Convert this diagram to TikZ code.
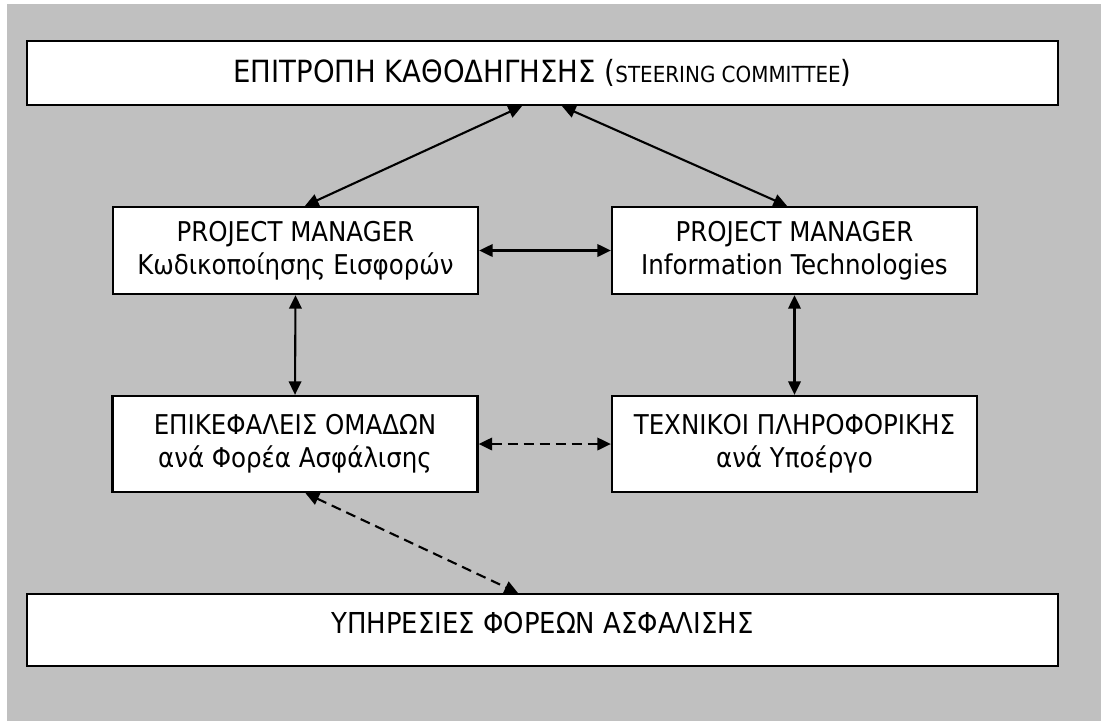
\documentclass[tikz,border=0pt]{standalone}
\usepackage{fontspec}
\setmainfont{DejaVu Sans Condensed}
\usetikzlibrary{arrows.meta}
\definecolor{panelgray}{HTML}{C0C0C0}
\tikzset{
    org box/.style={
        draw,line width=1.3pt,fill=white,
        align=center,inner sep=0pt,
        font=\fontsize{15.5}{19}\selectfont
    },
    wide box/.style={org box,minimum width=20.62cm},
    unit box/.style={org box,minimum width=7.3cm},
    link/.style={line width=1.2pt,{Triangle[length=.27cm,width=.25cm]}-{Triangle[length=.27cm,width=.25cm]}},
    soft link/.style={link,dash pattern=on .2cm off .12cm}
}
\begin{document}
\begin{tikzpicture}
    \useasboundingbox (0,0) rectangle (22.02,-14.42);
    \fill[panelgray] (.14,-.08) rectangle (22.02,-14.42);
    \node[wide box,minimum height=1.28cm,font=\fontsize{17.4}{21}\selectfont] (committee) at (10.85,-1.46) {ΕΠΙΤΡΟΠΗ ΚΑΘΟΔΗΓΗΣΗΣ ({\fontsize{12.6}{15}\selectfont STEERING COMMITTEE})};
    \foreach \x/\name/\txt in {5.91/pmcode/Κωδικοποίησης Εισφορών,15.89/pmit/Information Technologies}
        \node[unit box,minimum height=1.74cm] (\name) at (\x,-5.01) {PROJECT MANAGER\\\txt};
    \node[unit box,minimum height=1.92cm] (heads) at (5.9,-8.88) {ΕΠΙΚΕΦΑΛΕΙΣ ΟΜΑΔΩΝ\\ανά Φορέα Ασφάλισης};
    \node[unit box,minimum height=1.92cm] (techs) at (15.89,-8.88) {ΤΕΧΝΙΚΟΙ ΠΛΗΡΟΦΟΡΙΚΗΣ\\ανά Υποέργο};
    \node[wide box,font=\fontsize{16.4}{20}\selectfont,text height=.78cm,text depth=.66cm,anchor=north] (funds) at (10.85,-11.86) {ΥΠΗΡΕΣΙΕΣ ΦΟΡΕΩΝ ΑΣΦΑΛΙΣΗΣ};
    \draw[link] ([xshift=-.41cm]committee.south) -- ([xshift=.19cm]pmcode.north);
    \draw[link] ([xshift=.39cm]committee.south) -- ([xshift=-.15cm]pmit.north);
    \draw[link] (pmcode.east) -- (pmit.west);
    \draw[link] (pmcode.south) -- (heads.north);
    \draw[link] (pmit.south) -- (techs.north);
    \draw[soft link] (heads.east) -- (techs.west);
    \draw[soft link] ([xshift=.21cm]heads.south) -- ([xshift=-.49cm]funds.north);
\end{tikzpicture}
\end{document}
